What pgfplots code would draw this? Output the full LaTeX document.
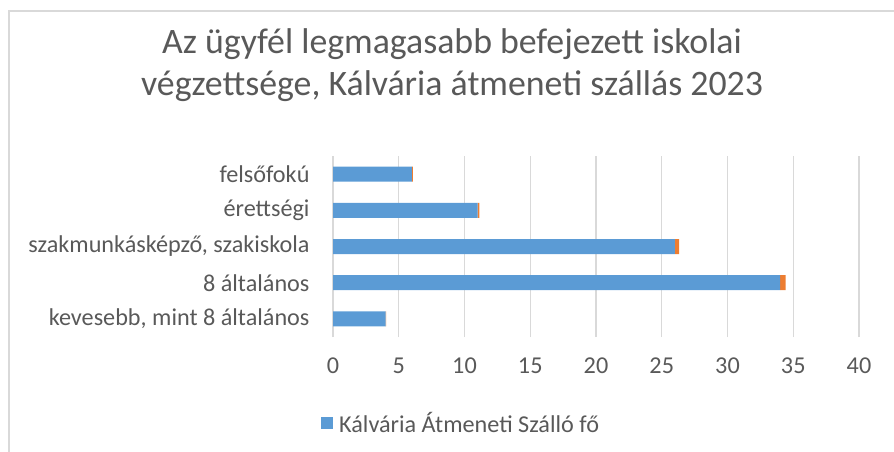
\documentclass[border=0pt]{standalone}
\usepackage{pgfplots}
\pgfplotsset{compat=1.18}
\usepackage{fontspec}
\setmainfont{Carlito}
\definecolor{blueS}{HTML}{5B9BD5}
\definecolor{orangeS}{HTML}{ED7D31}
\definecolor{gridc}{HTML}{D9D9D9}
\definecolor{txt}{HTML}{595959}
\begin{document}
\begin{tikzpicture}
\path[use as bounding box] (0pt,0pt) rectangle (894pt,-452pt);
\draw[color=gridc, line width=1.3pt] (9pt,-452pt) -- (9pt,-11pt) -- (894pt,-11pt);
\node[text=txt, font=\fontsize{35.8}{42}\selectfont, align=center] at (452pt,-65pt) {Az ügyfél legmagasabb befejezett iskolai\\végzettsége, Kálvária átmeneti szállás 2023};
\begin{axis}[at={(333pt,-337pt)}, anchor=south west, scale only axis,
  width=526pt, height=181pt,
  xbar stacked, bar width=15pt,
  xmin=0, xmax=40, ymin=-0.5, ymax=4.5,
  xtick={0,5,...,40}, ytick={0,1,2,3,4},
  yticklabels={{kevesebb, mint 8 általános},{8 általános},{szakmunkásképző, szakiskola},{érettségi},{felsőfokú}},
  xmajorgrids, major grid style={color=gridc, line width=1.3pt},
  axis line style={draw=none}, major tick length=0pt,
  tick label style={text=txt, font=\fontsize{24.2}{28}\selectfont},
  /pgf/number format/assume math mode=true,
  every x tick label/.append style={yshift=-17pt},
  every y tick label/.append style={xshift=-20pt},
  legend style={at={(axis description cs:-0.0228,-0.475)}, anchor=west, draw=none, fill=none, inner sep=0pt,
    font=\fontsize{24.2}{28}\selectfont, text=txt,
    /tikz/every odd column/.append style={column sep=4pt}},
  legend image code/.code={\fill[blueS] (0pt,-6pt) rectangle (12pt,6pt);},
]
\addplot[fill=blueS, draw=none] coordinates {(4,0) (34,1) (26,2) (11,3) (6,4)};
\addlegendentry{Kálvária Átmeneti Szálló fő}
\addplot[fill=orangeS, draw=none, forget plot] coordinates {(0.049,0) (0.42,1) (0.32,2) (0.136,3) (0.074,4)};
\end{axis}
\end{tikzpicture}
\end{document}
